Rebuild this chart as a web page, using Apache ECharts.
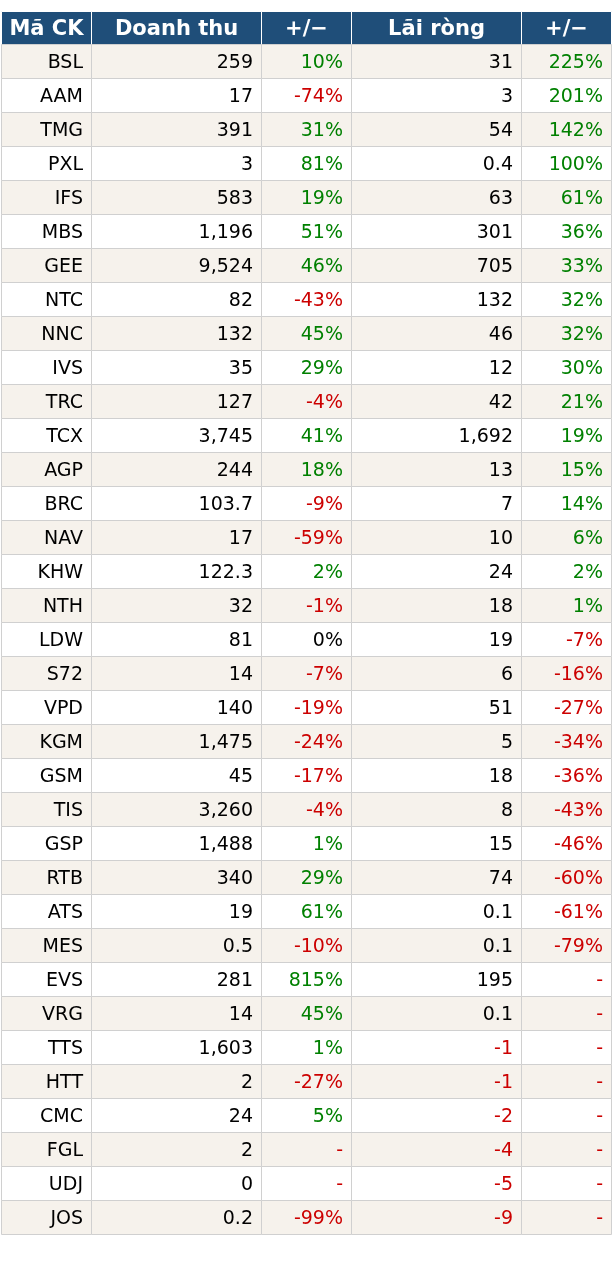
<!DOCTYPE html>
<html>
<head>
<meta charset="utf-8">
<script src="https://cdn.jsdelivr.net/npm/echarts@6/dist/echarts.min.js"></script>
<style>
  html, body { margin: 0; padding: 0; background: #fff; }
  #container { width: 612px; height: 1278px; }
</style>
</head>
<body>
<div id="container"></div>
<script>
// header labels
const headers = ['Mã CK', 'Doanh thu', '+/\u2212', 'Lãi ròng', '+/\u2212'];

// ticker codes, top to bottom
const tickers = ['BSL', 'AAM', 'TMG', 'PXL', 'IFS', 'MBS', 'GEE', 'NTC', 'NNC', 'IVS',
    'TRC', 'TCX', 'AGP', 'BRC', 'NAV', 'KHW', 'NTH', 'LDW', 'S72', 'VPD',
    'KGM', 'GSM', 'TIS', 'GSP', 'RTB', 'ATS', 'MES', 'EVS', 'VRG', 'TTS',
    'HTT', 'CMC', 'FGL', 'UDJ', 'JOS'];

// revenue (doanh thu)
const revenue = [259, 17, 391, 3, 583, 1196, 9524, 82, 132, 35,
    127, 3745, 244, 103.7, 17, 122.3, 32, 81, 14, 140,
    1475, 45, 3260, 1488, 340, 19, 0.5, 281, 14, 1603,
    2, 24, 2, 0, 0.2];

// revenue change, % (null = "-")
const revenueChange = [10, -74, 31, 81, 19, 51, 46, -43, 45, 29,
    -4, 41, 18, -9, -59, 2, -1, 0, -7, -19,
    -24, -17, -4, 1, 29, 61, -10, 815, 45, 1,
    -27, 5, null, null, -99];

// net profit (lãi ròng)
const profit = [31, 3, 54, 0.4, 63, 301, 705, 132, 46, 12,
    42, 1692, 13, 7, 10, 24, 18, 19, 6, 51,
    5, 18, 8, 15, 74, 0.1, 0.1, 195, 0.1, -1,
    -1, -2, -4, -5, -9];

// net profit change, % (null = "-")
const profitChange = [225, 201, 142, 100, 61, 36, 33, 32, 32, 30,
    21, 19, 15, 14, 6, 2, 1, -7, -16, -27,
    -34, -36, -43, -46, -60, -61, -79, null, null, null,
    null, null, null, null, null];

// column edges in axis units (1 unit = 10px)
const colEdges = [0, 9, 26, 35, 52, 61];

const GREEN = '#008000';
const RED = '#cc0000';
const INK = '#000000';

function fmtNum(v) {
    return v.toLocaleString('en-US', {maximumFractionDigits: 1});
}

function pctCell(v) {
    if (v === null) return {text: '-', color: RED};
    return {text: v + '%', color: v > 0 ? GREEN : (v < 0 ? RED : INK)};
}

function cellOf(row, col) {
    if (row === 0) return {text: headers[col], color: '#ffffff'};
    const i = row - 1;
    switch (col) {
        case 0: return {text: tickers[i], color: INK};
        case 1: return {text: fmtNum(revenue[i]), color: INK};
        case 2: return pctCell(revenueChange[i]);
        case 3: return {text: fmtNum(profit[i]), color: profit[i] < 0 ? RED : INK};
        default: return pctCell(profitChange[i]);
    }
}

const cells = [];
for (let r = 0; r <= tickers.length; r++) {
    for (let c = 0; c < headers.length; c++) {
        cells.push([c, r]);
    }
}

const chart = echarts.init(document.getElementById('container'));

chart.setOption({
    animation: false,
    backgroundColor: '#ffffff',
    grid: {left: 1, right: 1, top: 10, height: (tickers.length + 1) * 34},
    xAxis: {type: 'value', min: 0, max: 61, show: false},
    yAxis: {type: 'value', min: 0, max: tickers.length + 1, inverse: true, show: false},
    series: [{
        type: 'custom',
        data: cells,
        renderItem: function (params, api) {
            const c = api.value(0);
            const r = api.value(1);
            const p0 = api.coord([colEdges[c], r]);
            const p1 = api.coord([colEdges[c + 1], r + 1]);
            const isHead = r === 0;
            // header band starts one pixel lower, as in the source
            const top = Math.round(p0[1]) + (isHead ? 1 : 0);
            const x = Math.round(p0[0]) + 0.5;
            const y = top + 0.5;
            const w = Math.round(p1[0]) - Math.round(p0[0]);
            const h = Math.round(p1[1]) - top;
            const cell = cellOf(r, c);
            let fill = '#ffffff';
            if (isHead) fill = '#1f4e79';
            else if (r % 2 === 1) fill = '#f6f2ec';
            return {
                type: 'rect',
                shape: {x: x, y: y, width: w, height: h},
                style: {
                    fill: fill,
                    stroke: isHead ? '#ffffff' : '#d0d0d0',
                    lineWidth: 1
                },
                textContent: {
                    style: {
                        text: cell.text,
                        fill: cell.color,
                        font: isHead ? 'bold 21px "DejaVu Sans"' : '19px "DejaVu Sans"'
                    }
                },
                textConfig: isHead
                    ? {position: 'inside', offset: [0, 2]}
                    : {position: 'insideRight', distance: 9, offset: [0, 2]}
            };
        }
    }]
});
</script>
</body>
</html>
